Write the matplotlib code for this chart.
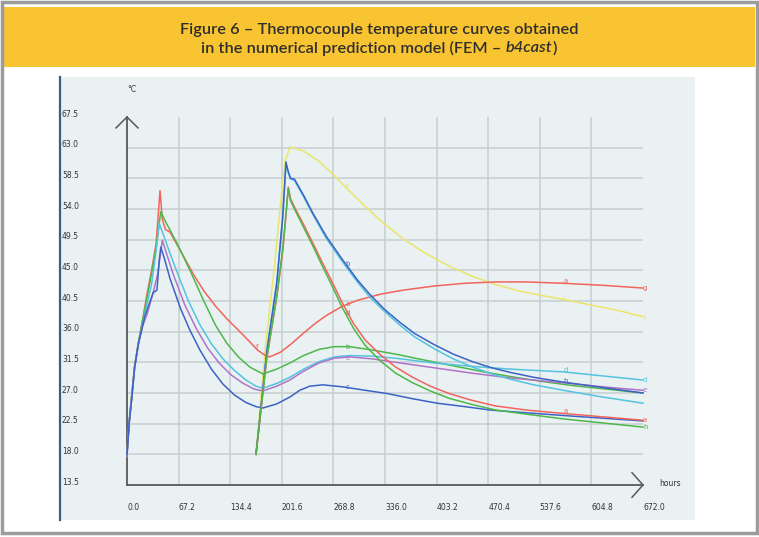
import matplotlib
matplotlib.use("Agg")
import matplotlib.pyplot as plt
from matplotlib.patches import Rectangle
from matplotlib.transforms import blended_transform_factory

# ---- data (hours, deg C) ----
x_ticks = [0.0, 67.2, 134.4, 201.6, 268.8, 336.0, 403.2, 470.4, 537.6, 604.8, 672.0]
y_ticks = [13.5, 18.0, 22.5, 27.0, 31.5, 36.0, 40.5, 45.0, 49.5, 54.0, 58.5, 63.0, 67.5]

# first layer (cast at t=0)
red1_h = [0, 3, 6, 10, 15, 20, 26, 32, 38, 43, 46, 50, 56, 70, 86, 100, 115, 130, 147, 160, 170, 180,
          186, 200, 215, 230, 245, 260, 280, 300, 330, 360, 400, 440, 480, 520, 568, 620, 672]
red1_t = [18.2, 23.0, 26.5, 31.0, 34.5, 37.5, 41.5, 45.0, 49.0, 56.7, 52.5, 51.0, 50.6, 47.8, 44.5,
          42.0, 39.8, 37.9, 36.0, 34.5, 33.3, 32.5, 32.3, 33.0, 34.3, 35.8, 37.2, 38.4, 39.7, 40.6,
          41.5, 42.1, 42.7, 43.1, 43.3, 43.3, 43.1, 42.8, 42.4]

green1_h = [0, 3, 6, 10, 15, 20, 26, 32, 38, 44, 49, 65, 82, 100, 115, 130, 145, 160, 177, 195, 212,
            230, 250, 270, 290, 320, 350, 380, 420, 460, 500, 540, 580, 630, 672]
green1_t = [18.2, 23.0, 26.5, 31.0, 34.5, 37.5, 41.0, 44.5, 48.5, 53.6, 52.4, 49.0, 45.0, 40.5, 37.0,
            34.3, 32.3, 30.8, 29.8, 30.5, 31.4, 32.5, 33.4, 33.8, 33.8, 33.3, 32.7, 32.0, 31.1, 30.2,
            29.4, 28.7, 28.1, 27.5, 27.0]

cyan1_h = [0, 3, 6, 10, 15, 20, 26, 32, 37, 42, 48, 56, 66, 80, 95, 110, 125, 140, 155, 168, 177, 195,
           212, 230, 250, 270, 290, 320, 350, 400, 450, 500, 568, 620, 672]
cyan1_t = [18.0, 22.8, 26.2, 30.8, 34.3, 37.0, 40.0, 43.0, 47.0, 51.9, 50.0, 47.5, 44.5, 40.5, 37.0,
           34.2, 32.0, 30.3, 28.9, 28.0, 27.7, 28.4, 29.3, 30.5, 31.6, 32.3, 32.5, 32.4, 32.1, 31.4,
           30.9, 30.5, 30.1, 29.5, 28.9]

purple1_h = [0, 3, 6, 10, 15, 20, 26, 34, 40, 46, 50, 60, 75, 90, 105, 120, 135, 150, 165, 177, 195,
             212, 230, 250, 270, 290, 320, 350, 400, 450, 500, 568, 620, 672]
purple1_t = [17.6, 22.8, 26.0, 30.8, 34.3, 36.7, 38.5, 41.7, 44.5, 49.4, 48.0, 44.5, 40.0, 36.5, 33.6,
             31.4, 29.7, 28.5, 27.6, 27.3, 28.0, 28.9, 30.2, 31.4, 32.1, 32.3, 32.0, 31.5, 30.7, 29.9,
             29.2, 28.5, 27.9, 27.4]

blue1_h = [0, 3, 6, 10, 15, 20, 23, 34, 39, 42, 44, 48, 56, 70, 82, 95, 110, 125, 140, 155, 168, 177,
           195, 212, 225, 238, 255, 281, 310, 340, 370, 404, 440, 473, 520, 568, 620, 672]
blue1_t = [18.0, 22.8, 26.0, 30.8, 34.3, 36.7, 38.2, 41.7, 42.1, 46.5, 48.4, 47.0, 43.8, 39.3, 36.2,
           33.3, 30.5, 28.3, 26.7, 25.6, 25.0, 24.8, 25.4, 26.4, 27.4, 28.0, 28.2, 27.9, 27.4, 26.9,
           26.2, 25.5, 25.0, 24.5, 24.1, 23.7, 23.3, 22.9]

# second layer (cast at ~168 h)
yellow2_h = [168, 180, 192, 200, 206, 212, 230, 250, 270, 290, 310, 330, 360, 390, 420, 450, 480, 510,
             540, 570, 600, 640, 672]
yellow2_t = [18.0, 33.5, 45.5, 55.0, 61.0, 63.1, 62.5, 61.0, 58.9, 56.6, 54.4, 52.3, 49.6, 47.4, 45.6,
             44.1, 42.9, 42.0, 41.3, 40.7, 40.0, 39.1, 38.2]

blue2_h = [168, 182, 195, 203, 207, 210, 213, 218, 230, 242, 260, 281, 300, 316, 335, 355, 375, 400,
           425, 450, 475, 500, 530, 568, 620, 672]
blue2_t = [18.0, 33.0, 43.0, 53.0, 60.9, 59.5, 58.5, 58.4, 56.0, 53.4, 49.9, 46.5, 43.6, 41.5, 39.3,
           37.4, 35.7, 34.1, 32.7, 31.6, 30.7, 30.0, 29.3, 28.6, 27.8, 27.0]

cyan2_h = [168, 182, 195, 203, 207, 210, 213, 218, 230, 242, 260, 281, 300, 316, 335, 355, 375, 400,
           425, 450, 475, 500, 530, 568, 620, 672]
cyan2_t = [18.0, 33.3, 43.3, 53.3, 60.5, 59.3, 58.4, 58.2, 55.8, 53.2, 49.6, 46.2, 43.3, 41.1, 39.0,
           37.0, 35.2, 33.5, 32.0, 30.8, 29.8, 29.0, 28.2, 27.4, 26.4, 25.5]

red2_h = [168, 182, 195, 203, 207, 210, 213, 219, 230, 242, 255, 268, 280, 295, 310, 330, 350, 372,
          395, 420, 450, 480, 520, 568, 620, 672]
red2_t = [18.0, 32.0, 41.0, 48.0, 53.0, 57.2, 55.5, 54.1, 51.7, 49.0, 46.0, 43.1, 40.3, 37.2, 34.8,
          32.6, 30.8, 29.3, 28.0, 26.9, 25.9, 25.1, 24.5, 24.0, 23.5, 23.0]

green2_h = [168, 182, 195, 203, 207, 210, 213, 219, 230, 242, 255, 268, 280, 295, 310, 330, 350, 372,
            395, 420, 450, 480, 520, 568, 620, 672]
green2_t = [18.0, 32.2, 41.2, 48.3, 53.3, 57.0, 55.2, 53.8, 51.3, 48.6, 45.5, 42.5, 39.6, 36.5, 34.0,
            31.7, 29.9, 28.5, 27.3, 26.2, 25.3, 24.5, 23.9, 23.2, 22.6, 22.0]

RED, GREEN, CYAN, PURPLE, BLUE, YELLOW = "#f2645c", "#4db84a", "#52c4e0", "#b073c8", "#3d62c6", "#ece56a"

series = [
    (yellow2_h, yellow2_t, YELLOW),
    (red1_h, red1_t, RED),
    (green1_h, green1_t, GREEN),
    (cyan1_h, cyan1_t, CYAN),
    (purple1_h, purple1_t, PURPLE),
    (blue1_h, blue1_t, BLUE),
    (cyan2_h, cyan2_t, CYAN),
    (blue2_h, blue2_t, BLUE),
    (red2_h, red2_t, RED),
    (green2_h, green2_t, GREEN),
]

# curve tags (letters written by the FEM software on each curve)
tag_h = [168, 285, 285, 285, 285, 285, 285, 285,
         568, 568, 568, 568, 568,
         672, 672, 672, 672, 672, 672]
tag_t = [33.8, 40.1, 38.7, 33.8, 32.2, 27.9, 57.2, 46.0,
         43.4, 40.9, 30.4, 28.8, 24.4,
         42.4, 38.2, 28.9, 27.4, 23.0, 22.0]
tag_s = ["f", "a", "d", "b", "e", "c", "f", "b",
         "a", "j", "d", "b", "a",
         "g", "j", "d", "e", "a", "h"]
tag_c = [RED, RED, "#a07a40", GREEN, PURPLE, BLUE, YELLOW, BLUE,
         RED, YELLOW, CYAN, BLUE, RED,
         RED, YELLOW, CYAN, PURPLE, RED, GREEN]

W, H = 759, 537
fig = plt.figure(figsize=(W / 100, H / 100), dpi=100)
fig.patch.set_facecolor("white")


def fx(px):
    return px / W


def fy(py):
    return 1 - py / H


# title band, chart panel (behind the axes), outer frame
fig.patches.append(Rectangle((fx(4), fy(67)), fx(751), 60 / H, transform=fig.transFigure,
                             facecolor="#f9c431", edgecolor="none", zorder=-10))
fig.patches.append(Rectangle((fx(60), fy(520)), fx(635), 443 / H, transform=fig.transFigure,
                             facecolor="#e9f1f2", edgecolor="none", zorder=-10))
fig.patches.append(Rectangle((fx(2), fy(533)), fx(755), 531 / H, transform=fig.transFigure,
                             fill=False, edgecolor="#9c9c9c", linewidth=2.5, zorder=-9))
fig.lines.append(plt.Line2D([fx(60.5), fx(60.5)], [fy(77), fy(520)], transform=fig.transFigure,
                            color="#3f5f78", linewidth=1.6, zorder=-9))

# title
tfont = dict(family="Lato", fontsize=11.8, fontweight="semibold", color="#2f2f2f")
fig.text(fx(379), fy(30), "Figure 6 \u2013 Thermocouple temperature curves obtained",
         ha="center", va="center", **tfont)
p1 = fig.text(0, fy(48), "in the numerical prediction model (FEM \u2013 ", ha="left", va="center", **tfont)
p2 = fig.text(0, fy(48), "b4cast", ha="left", va="center", style="italic", **tfont)
p3 = fig.text(0, fy(48), ")", ha="left", va="center", **tfont)
r = fig.canvas.get_renderer()
ws = [p.get_window_extent(r).width for p in (p1, p2, p3)]
x0 = 379 - sum(ws) / 2
for p, w in zip((p1, p2, p3), ws):
    p.set_x(fx(x0))
    x0 += w

# plotting area
ax = fig.add_axes([fx(127), fy(485), fx(643) - fx(127), fy(117) - fy(485)])
ax.set_xlim(0, 672)
ax.set_ylim(13.5, 67.5)
ax.patch.set_alpha(0)
for s in ax.spines.values():
    s.set_visible(False)
ax.set_xticks([])
ax.set_yticks([])

grid_c = "#c6cfcf"
for h in x_ticks[1:-1]:
    ax.plot([h, h], [13.5, 67.5], color=grid_c, linewidth=1.1, zorder=1)
for t in y_ticks[1:-1]:
    ax.plot([0, 672], [t, t], color=grid_c, linewidth=1.1, zorder=1)

axis_c = "#555a5a"
ax.plot([0, 0], [13.5, 67.5], color=axis_c, linewidth=1.3, clip_on=False, zorder=2)
ax.plot([0, 672], [13.5, 13.5], color=axis_c, linewidth=1.3, clip_on=False, zorder=2)
ax.plot([-14.3, 0, 14.3], [65.9, 67.5, 65.9], color=axis_c, linewidth=1.1, clip_on=False, zorder=2)
ax.plot([657.7, 672, 657.7], [15.3, 13.5, 11.7], color=axis_c, linewidth=1.1, clip_on=False, zorder=2)

for h, t, c in series:
    ax.plot(h, t, color=c, linewidth=1.1, zorder=3, clip_on=False, solid_joinstyle="round")

for h, t, s, c in zip(tag_h, tag_t, tag_s, tag_c):
    ax.text(h, t, s, color=c, fontsize=5, ha="left", va="center", zorder=4)

# tick labels
lab = dict(fontsize=5.5, color="#333333", family="DejaVu Sans")
ty = blended_transform_factory(fig.transFigure, ax.transData)
for t in y_ticks:
    ax.text(fx(62), t + 0.4, f"{t:.1f}", transform=ty, ha="left", va="center", **lab)
tx = blended_transform_factory(ax.transData, fig.transFigure)
for h in x_ticks:
    ax.text(h, fy(507), f"{h:.1f}", transform=tx, ha="left", va="center", **lab)
fig.text(fx(127), fy(90), "\u00b0C", ha="left", va="center", **lab)
fig.text(fx(659), fy(483), "hours", ha="left", va="center", **lab)

fig.savefig("out.png", dpi=100)
